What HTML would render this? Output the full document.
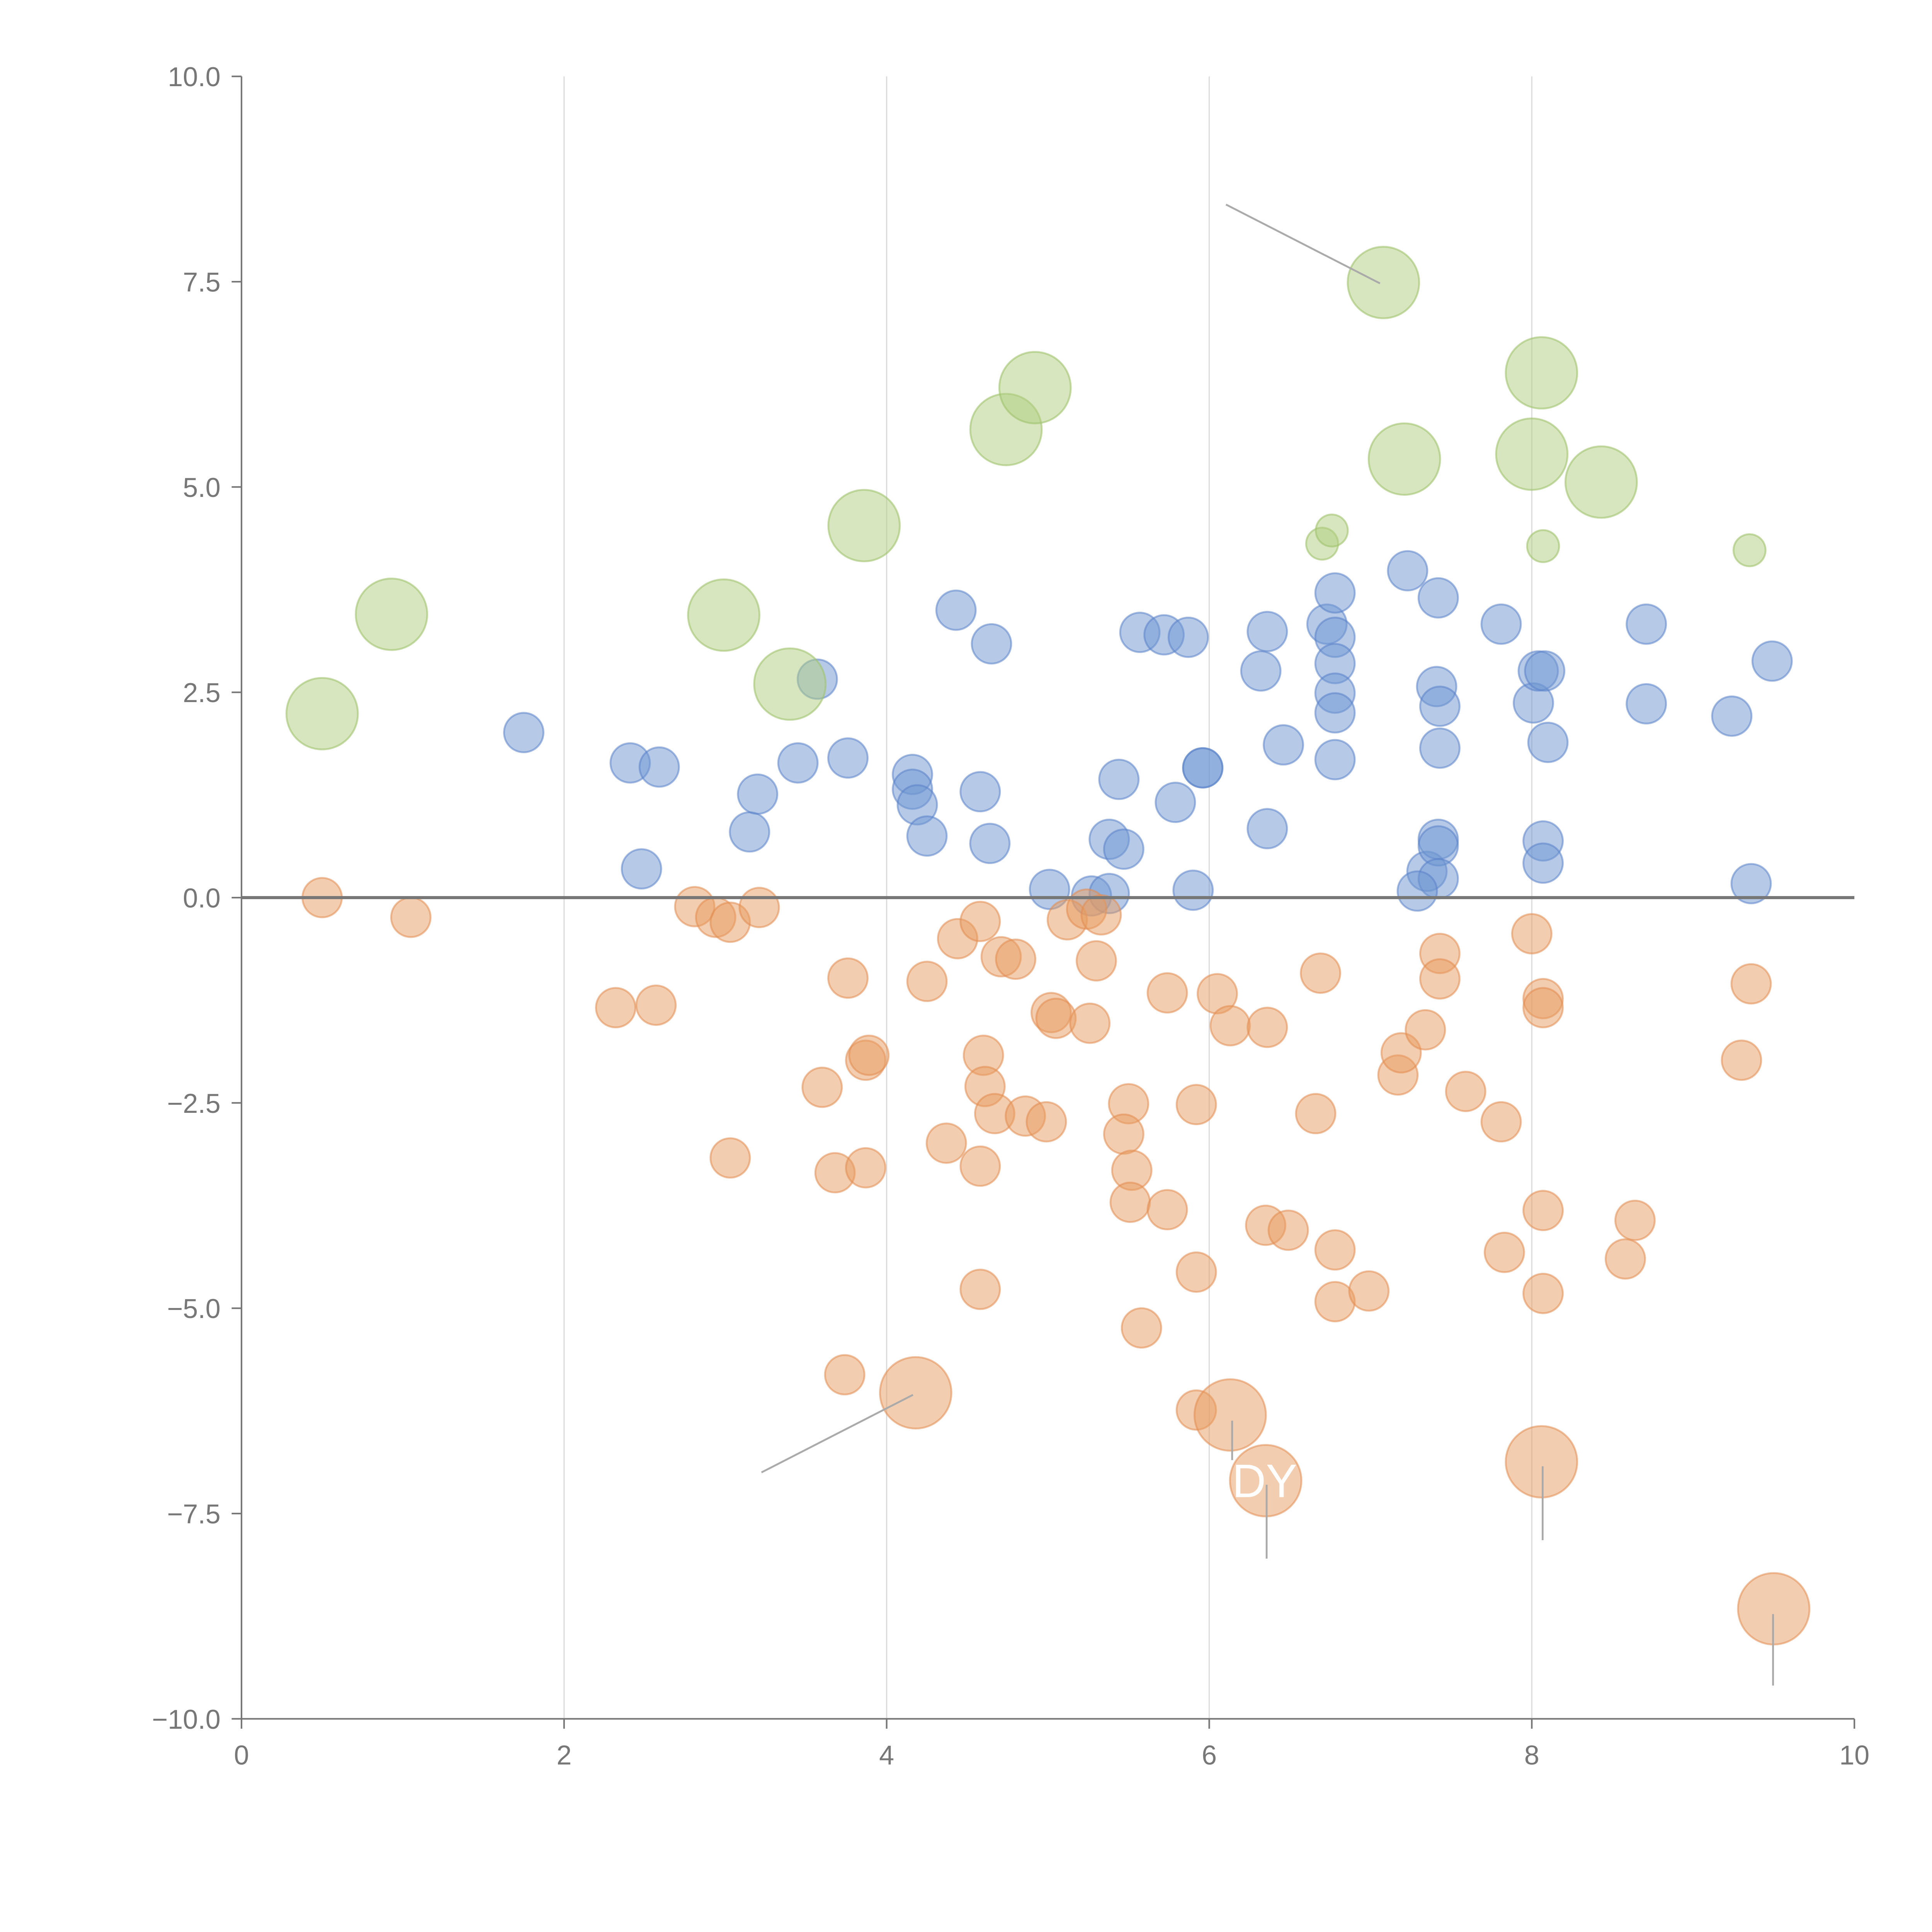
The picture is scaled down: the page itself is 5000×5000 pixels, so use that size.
<!DOCTYPE html>
<html><head><meta charset="utf-8"><style>
html,body{margin:0;padding:0;background:#fff}
svg{display:block}
text{font-family:"Liberation Sans",sans-serif}
</style></head><body>
<svg id="chart" width="5000" height="5000" viewBox="0 0 1568 1568" xmlns="http://www.w3.org/2000/svg">
<g id="grid"></g>
<g id="marks"></g>
<g id="axes"></g>
</svg>
<script>
const xTicks=[0,2,4,6,8,10];
const yTicks=[10,7.5,5,2.5,0,-2.5,-5,-7.5,-10];
const blueX=[1.75,2.41,2.59,2.48,3.15,3.2,3.45,3.57,3.76,4.16,4.16,4.19,4.25,4.43,4.65,4.58,4.64,5.01,5.27,5.38,5.38,5.47,5.44,5.57,5.72,5.87,5.79,5.9,5.96,5.96,6.32,6.36,6.36,6.46,6.73,6.78,6.78,6.78,6.78,6.78,6.78,7.23,7.42,7.41,7.43,7.43,7.35,7.42,7.42,7.42,7.29,7.81,8.01,8.04,8.08,8.1,8.07,8.07,8.71,8.71,9.24,9.49,9.36];
const blueY=[2.01,1.64,1.59,0.35,0.8,1.26,1.64,2.66,1.7,1.5,1.32,1.13,0.75,3.5,3.09,1.29,0.66,0.1,0.02,0.05,0.71,0.59,1.44,3.23,3.2,3.17,1.16,0.09,1.58,1.58,2.76,3.24,0.84,1.86,3.33,3.71,3.17,2.85,2.49,2.25,1.68,3.98,3.65,2.57,2.33,1.82,0.32,0.71,0.63,0.23,0.08,3.33,2.37,2.76,2.76,1.89,0.69,0.42,3.33,2.36,2.21,2.88,0.17];
const greenX=[0.5,0.93,2.99,3.4,3.86,4.74,4.92,7.08,7.21,8.06,8.0,8.43,6.7,6.76,8.07,9.35];
const greenY=[2.24,3.45,3.44,2.6,4.53,5.7,6.21,7.49,5.34,6.39,5.4,5.06,4.31,4.47,4.28,4.23];
const greenSize=[2,2,2,2,2,2,2,2,2,2,2,2,1,1,1,1];
const orangeX=[0.5,1.05,2.32,2.57,2.81,2.94,3.03,3.21,3.03,3.6,3.68,3.76,3.87,3.89,3.87,3.74,4.18,4.25,4.37,4.44,4.58,4.6,4.61,4.67,4.58,4.58,4.71,4.8,4.86,4.99,5.02,5.05,5.12,5.24,5.33,5.3,5.26,5.5,5.47,5.52,5.51,5.58,5.74,5.74,5.92,5.92,5.92,6.05,6.13,6.13,6.35,6.36,6.35,6.49,6.66,6.69,6.78,6.78,6.99,7.17,7.19,7.34,7.43,7.43,7.59,7.81,7.83,8.0,8.07,8.07,8.07,8.07,8.06,8.64,8.58,9.3,9.36,9.5];
const orangeY=[0,-0.24,-1.34,-1.31,-0.11,-0.24,-0.3,-0.12,-3.17,-2.31,-3.35,-0.98,-1.98,-1.92,-3.29,-5.81,-6.03,-1.02,-2.99,-0.5,-0.29,-1.92,-2.3,-2.63,-3.27,-4.77,-0.72,-0.75,-2.66,-2.73,-1.4,-1.47,-0.27,-0.14,-0.21,-0.77,-1.53,-2.51,-2.88,-3.32,-3.71,-5.24,-1.16,-3.8,-2.52,-4.56,-6.24,-1.17,-1.56,-6.3,-7.1,-1.58,-3.99,-4.05,-2.63,-0.92,-4.29,-4.92,-4.79,-2.16,-1.89,-1.61,-0.68,-0.99,-2.36,-2.73,-4.32,-0.44,-1.23,-1.34,-3.81,-4.82,-6.87,-3.93,-4.4,-1.98,-1.05,-8.66];
const orangeBig=[16,49,50,72,77];

const X0=196,X1=1505,Y0=1395,Y1=62;
function sx(v){return X0+(v-0)/(10-0)*(X1-X0);}
function sy(v){return Y0-(v+10)/20*(Y0-Y1);}
const NS="http://www.w3.org/2000/svg";
function mk(tag,attrs,parent){const e=document.createElementNS(NS,tag);for(const k in attrs)e.setAttribute(k,attrs[k]);parent.appendChild(e);return e;}
const grid=document.getElementById('grid'),marks=document.getElementById('marks'),axes=document.getElementById('axes');

xTicks.forEach(t=>{if(t>0&&t<10){const l=mk('line',{x1:sx(t),x2:sx(t),y1:Y1,y2:Y0,stroke:'#dcdcdc','stroke-width':1},grid);

}});

function dot(x,y,r,fill,stroke,name){const c=mk('circle',{cx:sx(x),cy:sy(y),r:r,fill:fill,stroke:stroke,'stroke-width':1.5},marks);

}
blueX.forEach((x,i)=>dot(x,blueY[i],16,'rgba(110,150,210,0.5)','rgba(90,130,200,0.55)','blue-point'));
greenX.forEach((x,i)=>dot(x,greenY[i],greenSize[i]===2?29:13,'rgba(175,205,125,0.5)','rgba(160,195,110,0.6)','green-bubble'));
orangeX.forEach((x,i)=>dot(x,orangeY[i],orangeBig.includes(i)?29:16,'rgba(232,155,95,0.5)','rgba(225,140,80,0.55)','orange-point'));

[[995,166,1120,230],[618,1195,741,1132],[1000,1153,1000,1185],[1028,1205,1028,1265],[1252,1190,1252,1250],[1439,1310,1439,1368]].forEach(a=>{
const l=mk('line',{x1:a[0],y1:a[1],x2:a[2],y2:a[3],stroke:'#aaa','stroke-width':1.5},marks);

});
const lbl=mk('text',{x:1000,y:1215,fill:'#fff','font-size':38},marks);lbl.textContent='DY';



const z=mk('line',{x1:X0,x2:X1,y1:sy(0),y2:sy(0),stroke:'#777','stroke-width':2.5},axes);


const ya=mk('line',{x1:X0,x2:X0,y1:Y1,y2:Y0,stroke:'#777','stroke-width':1.3},axes);


const xa=mk('line',{x1:X0,x2:X1,y1:Y0,y2:Y0,stroke:'#777','stroke-width':1.3},axes);


yTicks.forEach(t=>{const y=sy(t);mk('line',{x1:X0-8,x2:X0,y1:y,y2:y,stroke:'#777','stroke-width':1.3},axes);
const tx=mk('text',{x:X0-17,y:y+8,'text-anchor':'end','font-size':22,fill:'#777'},axes);tx.textContent=(t<0?'\u2212':'')+Math.abs(t).toFixed(1);

});
xTicks.forEach(t=>{const x=sx(t);mk('line',{x1:x,x2:x,y1:Y0,y2:Y0+8,stroke:'#777','stroke-width':1.3},axes);
const tx=mk('text',{x:x,y:Y0+37,'text-anchor':'middle','font-size':22,fill:'#777'},axes);tx.textContent=String(t);

});
</script>
</body></html>
